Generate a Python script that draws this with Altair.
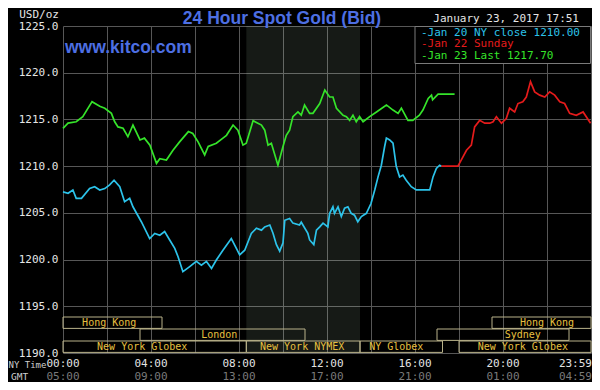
import altair as alt
import pandas as pd

# ---------------- data ----------------
cyan_hours = [0.0, 0.23, 0.45, 0.6, 0.84, 1.21, 1.44, 1.67, 1.9, 2.12, 2.32, 2.58, 2.8, 3.03, 3.18,
              3.56, 3.94, 4.17, 4.4, 4.62, 4.85, 5.08, 5.23, 5.45, 5.76, 6.06, 6.29, 6.52, 6.75, 6.97,
              7.27, 7.65, 7.88, 8.03, 8.26, 8.56, 8.79, 9.02, 9.17, 9.4, 9.55, 9.7, 9.85, 10.0, 10.08,
              10.3, 10.45, 10.75, 10.83, 11.13, 11.21, 11.4, 11.52, 11.67, 11.82, 12.04, 12.12, 12.27,
              12.34, 12.5, 12.65, 12.8, 12.95, 13.1, 13.25, 13.4, 13.56, 13.79, 14.0, 14.17, 14.32,
              14.47, 14.62, 14.7, 14.85, 15.0, 15.15, 15.3, 15.45, 15.6, 15.83, 16.06, 16.36, 16.67,
              16.82, 16.97, 17.12, 17.2]
cyan_prices = [1207.25, 1207.1, 1207.45, 1206.55, 1206.55, 1207.6, 1207.8, 1207.45, 1207.6, 1208.0,
               1208.5, 1207.8, 1206.2, 1206.55, 1205.65, 1204.05, 1202.25, 1202.8, 1202.6, 1203.0,
               1202.1, 1201.2, 1200.3, 1198.7, 1199.25, 1199.8, 1199.4, 1199.8, 1199.05, 1199.95,
               1201.0, 1202.25, 1201.2, 1200.5, 1201.0, 1202.8, 1203.35, 1203.15, 1203.5, 1203.7,
               1202.8, 1201.6, 1200.9, 1201.8, 1204.2, 1204.4, 1203.9, 1203.7, 1204.0, 1202.8,
               1202.1, 1201.6, 1203.15, 1203.5, 1203.9, 1203.5, 1204.95, 1205.65, 1204.95, 1205.65,
               1204.6, 1205.5, 1205.65, 1204.95, 1204.75, 1204.05, 1204.6, 1204.95, 1206.0, 1207.45,
               1208.85, 1210.1, 1212.1, 1213.0, 1212.8, 1212.45, 1209.95, 1208.85, 1209.05, 1208.5,
               1207.8, 1207.45, 1207.45, 1207.45, 1208.85, 1209.75, 1210.1, 1210.0]

red_hours = [17.2, 17.95, 18.1, 18.34, 18.56, 18.71, 18.94, 19.17, 19.4, 19.55, 19.7, 19.93, 20.15,
             20.3, 20.53, 20.68, 20.9, 21.06, 21.25, 21.44, 21.67, 21.9, 22.12, 22.35, 22.58, 22.8,
             23.03, 23.33, 23.64, 23.98]
red_prices = [1210.0, 1210.0, 1210.65, 1211.7, 1212.25, 1214.2, 1214.9, 1214.6, 1214.6, 1214.75,
              1215.3, 1214.6, 1215.1, 1216.2, 1215.8, 1216.7, 1216.9, 1217.4, 1219.05, 1217.95,
              1217.6, 1217.4, 1217.95, 1217.6, 1216.9, 1216.7, 1215.65, 1215.45, 1215.8, 1214.6]

green_hours = [0.0, 0.23, 0.6, 0.9, 1.32, 1.67, 1.9, 2.2, 2.35, 2.5, 2.73, 2.95, 3.18, 3.5, 3.7, 3.95,
               4.25, 4.4, 4.7, 5.0, 5.3, 5.7, 5.9, 6.14, 6.44, 6.6, 6.97, 7.27, 7.43, 7.73, 7.95, 8.18,
               8.33, 8.64, 9.02, 9.17, 9.32, 9.47, 9.77, 10.0, 10.15, 10.3, 10.45, 10.68, 10.83, 10.98,
               11.21, 11.36, 11.67, 11.9, 12.12, 12.27, 12.43, 12.73, 12.88, 13.03, 13.18, 13.33,
               13.48, 13.64, 13.94, 14.25, 14.7, 15.0, 15.23, 15.38, 15.68, 15.9, 16.2, 16.36, 16.6,
               16.75, 16.8, 17.05, 17.8]
green_prices = [1214.05, 1214.6, 1214.75, 1215.3, 1216.9, 1216.4, 1216.2, 1215.65, 1214.75, 1214.2,
                1214.05, 1213.15, 1214.4, 1212.8, 1213.0, 1212.25, 1210.3, 1210.8, 1210.65, 1211.7,
                1212.6, 1213.7, 1213.5, 1212.6, 1211.2, 1212.1, 1212.45, 1213.0, 1213.3, 1214.4,
                1213.85, 1212.25, 1212.45, 1214.85, 1214.4, 1213.85, 1212.25, 1212.45, 1210.1, 1212.1,
                1213.3, 1213.85, 1215.3, 1215.8, 1215.45, 1216.55, 1215.65, 1215.65, 1216.7, 1218.15,
                1217.4, 1217.4, 1216.2, 1215.45, 1215.3, 1214.9, 1215.45, 1214.75, 1215.3, 1214.75,
                1215.3, 1215.8, 1216.55, 1216.0, 1215.65, 1216.2, 1214.9, 1214.9, 1215.45, 1216.0,
                1217.25, 1217.6, 1217.1, 1217.7, 1217.7]

series_names = ["Jan 20 NY close 1210.00", "Jan 22 Sunday", "Jan 23 Last 1217.70"]
series_colors = ["#2cc3ea", "#e41b1b", "#35e42a"]

price_ticks = [1190, 1195, 1200, 1205, 1210, 1215, 1220, 1225]
tick_hours = [0, 4, 8, 12, 16, 20, 24]
ny_labels = ["00:00", "04:00", "08:00", "12:00", "16:00", "20:00", "23:59"]
gmt_labels = ["05:00", "09:00", "13:00", "17:00", "21:00", "01:00", "04:59"]

session_names = ["Hong Kong", "London", "New York Globex", "New York NYMEX", "NY Globex",
                 "Sydney", "New York Globex", "Hong Kong"]
session_start = [0, 3.5, 0, 8.333, 13.5, 17, 18, 19.5]
session_end = [4.5, 11, 8.333, 13.5, 17.25, 23, 24, 24]
session_row = [0, 1, 2, 2, 2, 1, 2, 0]
session_label_at = [2.1, 7.1, 3.6, 10.87, 15.15, 20.9, 20.9, 22.0]

title_text = "24 Hour Spot Gold (Bid)"
site_text = "www.kitco.com"
unit_text = "USD/oz"
date_text = "January 23, 2017 17:51"

# ---------------- layout ----------------
W, H = 528, 327
MONO = "DejaVu Sans Mono"
SANS = "Liberation Sans"
BLUE = "#4d6fe3"
GRID = "#575757"

frames = []
for name, hrs, prs in zip(series_names, [cyan_hours, red_hours, green_hours],
                          [cyan_prices, red_prices, green_prices]):
    frames.append(pd.DataFrame({"hour": hrs, "price": prs, "series": name}))
lines_df = pd.concat(frames, ignore_index=True)
lines_df["idx"] = range(len(lines_df))

xscale = alt.Scale(domain=[0, 24], nice=False, zero=False)
yscale = alt.Scale(domain=[1190, 1225], nice=False, zero=False)
x_axis = alt.Axis(values=list(range(0, 25, 2)), labels=False, ticks=False, domain=False,
                  grid=True, gridColor=GRID, gridWidth=1, title=None)
y_axis = alt.Axis(values=price_ticks, format=".1f", labelFont=MONO, labelFontSize=11,
                  labelColor="#e6e6e6", ticks=False, domain=False, grid=True, gridColor=GRID,
                  gridWidth=1, labelPadding=5, title=None)


def X(field):
    return alt.X(field, type="quantitative", scale=xscale, axis=x_axis)


nymex_i = session_names.index("New York NYMEX")
shade_df = pd.DataFrame({"start": [session_start[nymex_i]], "end": [session_end[nymex_i]]})
shade = alt.Chart(shade_df).mark_rect(fill="#d8ffd8", opacity=0.1).encode(
    x=X("start"), x2="end")

lines = alt.Chart(lines_df).mark_line(strokeWidth=1.7).encode(
    x=X("hour"),
    y=alt.Y("price:Q", scale=yscale, axis=y_axis),
    color=alt.Color("series:N", scale=alt.Scale(domain=series_names, range=series_colors),
                    legend=None),
    order="idx:Q",
)

price_layer = alt.layer(shade, lines)

sess_df = pd.DataFrame({"name": session_names, "start": session_start, "end": session_end,
                        "row": session_row, "label_at": session_label_at})
sess_df["row_end"] = sess_df["row"] + 0.95
sess_df["row_mid"] = sess_df["row"] + 0.5
row_scale = alt.Scale(domain=[0, 3], range=[H - 36, H], nice=False, zero=False)

sess_boxes = alt.Chart(sess_df).mark_rect(fill="black", fillOpacity=0, stroke="#b9b28a",
                                          strokeWidth=1).encode(
    x=X("start"), x2="end",
    y=alt.Y("row:Q", scale=row_scale, axis=None), y2="row_end")
sess_text = alt.Chart(sess_df).mark_text(font=MONO, fontSize=10, color="#e8c040",
                                         baseline="middle", align="center").encode(
    x=X("label_at"), y=alt.Y("row_mid:Q", scale=row_scale, axis=None), text="name:N")
session_layer = alt.layer(sess_boxes, sess_text)

ticks_df = pd.DataFrame({"hour": tick_hours, "ny": ny_labels, "gmt": gmt_labels})


def tick_text(df, field, color, yv, align, dx):
    return alt.Chart(df).mark_text(font=MONO, fontSize=11, color=color, align=align,
                                   baseline="middle", dx=dx).encode(
        x=X("hour"), y=alt.value(yv), text=f"{field}:N")


tick_layers = [
    tick_text(ticks_df.iloc[:-1], "ny", "#e2e2e2", 338, "center", 0),
    tick_text(ticks_df.iloc[-1:], "ny", "#e2e2e2", 338, "right", 1),
    tick_text(ticks_df.iloc[:-1], "gmt", "#7a7a7a", 351, "center", 0),
    tick_text(ticks_df.iloc[-1:], "gmt", "#7a7a7a", 351, "right", 1),
]


def note(text, xv, yv, align="left", font=MONO, size=11, color="#e6e6e6", weight="normal",
         baseline="middle"):
    return alt.Chart(pd.DataFrame({"t": [text]})).mark_text(
        font=font, fontSize=size, color=color, align=align, baseline=baseline,
        fontWeight=weight).encode(text="t:N", x=alt.value(xv), y=alt.value(yv))


notes = [
    note(title_text, 219, -2.5, align="center", font=SANS, size=17.5, color=BLUE, weight="bold",
         baseline="alphabetic"),
    note(site_text, 2, 27, align="left", font=SANS, size=17.5, color=BLUE, weight="bold",
         baseline="alphabetic"),
    note(unit_text, -4, -11.5, align="right"),
    note(date_text, 516, -7, align="right"),
    note("NY Time", -54.5, 339, size=9, color="#cfcfcf"),
    note("GMT", -52, 351, size=9.5, color="#cfcfcf"),
]

legend_box = alt.Chart(pd.DataFrame({"a": [0]})).mark_rect(
    fill="black", stroke="#7a7a7a", strokeWidth=1).encode(
    x=alt.value(352), x2=alt.value(527.5), y=alt.value(0.5), y2=alt.value(37.5))
legend_rows = [note("-" + name, 358, 6.5 + i * 11.5, color=col)
               for i, (name, col) in enumerate(zip(series_names, series_colors))]

chart = alt.layer(price_layer, session_layer, *tick_layers, legend_box, *legend_rows,
                  *notes).resolve_scale(y="independent").properties(
    width=W, height=H, background="black",
    padding={"left": 55, "top": 18, "right": 1, "bottom": 29},
    autosize=alt.AutoSizeParams(type="none"),
).configure_view(stroke=None)

chart.save("out.html", embed_options={"renderer": "svg", "actions": False})
